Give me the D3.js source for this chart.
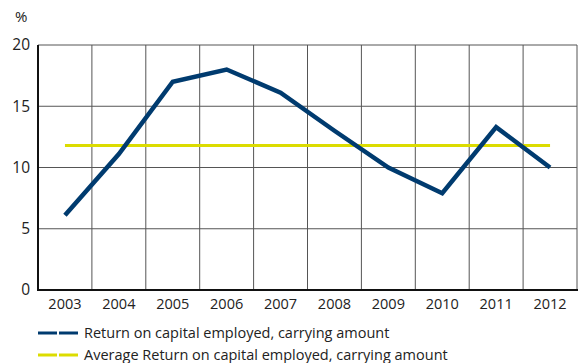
<!DOCTYPE html>
<html><head><meta charset="utf-8">
<script src="https://cdn.jsdelivr.net/npm/d3@7"></script>
<style>body{margin:0;background:#fff}svg{display:block}text{font-family:"Open Sans","Noto Sans",sans-serif;fill:#222}</style>
</head><body><svg id="c" width="585" height="363"></svg>
<script>
const years = ["2003","2004","2005","2006","2007","2008","2009","2010","2011","2012"];
const roce = [6.1, 11.1, 17.0, 18.0, 16.1, 13.0, 10.0, 7.9, 13.3, 10.0];
const avgRoce = [11.8, 11.8, 11.8, 11.8, 11.8, 11.8, 11.8, 11.8, 11.8, 11.8];
const yTicks = [0, 5, 10, 15, 20];
const seriesNames = ["Return on capital employed, carrying amount", "Average Return on capital employed, carrying amount"];
const colors = ["#003b6f", "#dcdc00"];

const svg = d3.select("#c");
const L = 38, R = 577, T = 45, B = 290;
const x = d3.scaleBand().domain(years).range([L, R]);
const y = d3.scaleLinear().domain([0, 20]).range([B, T]);

const bounds = years.map(d => x(d)).concat([R]);
svg.append("g").selectAll("line").data(bounds.slice(1)).join("line")
  .attr("x1", d => d).attr("x2", d => d).attr("y1", T).attr("y2", B)
  .attr("stroke", "#555").attr("stroke-width", 1);
svg.append("g").selectAll("line").data(yTicks.slice(1)).join("line")
  .attr("x1", L).attr("x2", R).attr("y1", d => y(d)).attr("y2", d => y(d))
  .attr("stroke", "#555").attr("stroke-width", 1);

svg.append("line").attr("x1", L).attr("x2", L).attr("y1", T).attr("y2", B + 1).attr("stroke", "#111").attr("stroke-width", 2);
svg.append("line").attr("x1", L - 1).attr("x2", R + 1).attr("y1", B).attr("y2", B).attr("stroke", "#111").attr("stroke-width", 2);

const ff = "'Open Sans','Noto Sans',sans-serif";
const yAxis = svg.append("g").attr("transform", `translate(${L},0)`)
  .call(d3.axisLeft(y).tickValues(yTicks).tickSize(0).tickPadding(8));
yAxis.select(".domain").remove();
yAxis.selectAll("text").attr("font-size", 15.5).style("font-family", ff).attr("fill", "#222");

const xAxis = svg.append("g").attr("transform", `translate(0,${B})`)
  .call(d3.axisBottom(x).tickSize(0).tickPadding(9));
xAxis.select(".domain").remove();
xAxis.selectAll("text").attr("font-size", 14.5).style("font-family", ff).attr("fill", "#222");

svg.append("text").attr("x", 15).attr("y", 22).attr("font-size", 15).text("%");

const line = d3.line().x((d, i) => x(years[i]) + x.bandwidth() / 2).y(d => y(d));
svg.append("path").datum(avgRoce).attr("d", line).attr("fill", "none")
  .attr("stroke", colors[1]).attr("stroke-width", 3);
svg.append("path").datum(roce).attr("d", line).attr("fill", "none")
  .attr("stroke", colors[0]).attr("stroke-width", 4.5).attr("stroke-linejoin", "miter");

const leg = svg.append("g");
seriesNames.forEach((name, i) => {
  const ly = 333 + i * 22;
  leg.append("line").attr("x1", 38).attr("x2", 57).attr("y1", ly).attr("y2", ly).attr("stroke", colors[i]).attr("stroke-width", 3);
  leg.append("line").attr("x1", 59).attr("x2", 78).attr("y1", ly).attr("y2", ly).attr("stroke", colors[i]).attr("stroke-width", 3);
  leg.append("text").attr("x", 84).attr("y", ly + 5).attr("font-size", 14.5).text(name);
});
</script></body></html>
